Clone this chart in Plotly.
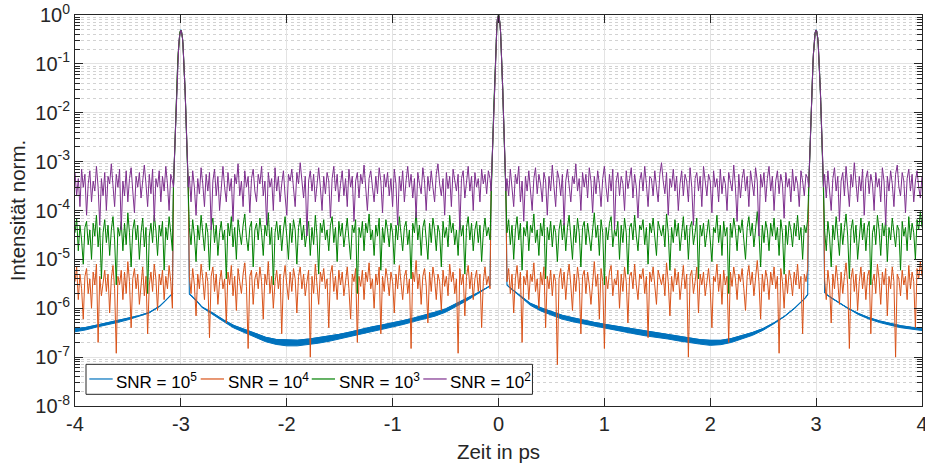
import numpy as np
import plotly.graph_objects as go

# ---------------- data ----------------
# pulse profile (offsets in ps from the pulse centre)
peak_dt = [-0.07, -0.065, -0.06, -0.055, -0.05, -0.045, -0.04, -0.035, -0.03, -0.025, -0.02, -0.015, -0.01, -0.005, 0.0,
           0.005, 0.01, 0.015, 0.02, 0.025, 0.03, 0.035, 0.04, 0.045, 0.05, 0.055, 0.06, 0.065, 0.07]
peak_center = [2.5e-4, 5.5e-4, 1.2e-3, 2.5e-3, 5.5e-3, 1.3e-2, 3.0e-2, 6.8e-2, 0.14, 0.26, 0.43, 0.63, 0.82, 0.95, 1.0,
               0.95, 0.82, 0.63, 0.43, 0.26, 0.14, 6.8e-2, 3.0e-2, 1.3e-2, 5.5e-3, 2.5e-3, 1.2e-3, 5.5e-4, 2.5e-4]
peak_side = [3e-4, 7e-4, 1.5e-3, 3.1e-3, 6.5e-3, 1.35e-2, 2.8e-2, 5.5e-2, 0.1, 0.165, 0.25, 0.34, 0.42, 0.47, 0.49,
             0.47, 0.42, 0.34, 0.25, 0.165, 0.1, 5.5e-2, 2.8e-2, 1.35e-2, 6.5e-3, 3.1e-3, 1.5e-3, 7e-4, 3e-4]
peak_pos = [-3.0, 0.0, 3.0]

# time spans of the noise floor between the pulses (ps)
noise_spans = [(-4.0, -3.08), (-2.92, -0.08), (0.08, 2.92), (3.08, 4.0)]

# SNR = 10^5 : smooth floor (upper / lower edge of the drawn band)
blue_t = [
    [-4.0, -3.9, -3.8, -3.7, -3.6, -3.5, -3.4, -3.3, -3.2, -3.15, -3.1, -3.08],
    [-2.92, -2.9, -2.85, -2.8, -2.7, -2.6, -2.5, -2.4, -2.3, -2.2, -2.1, -2.0, -1.9, -1.8, -1.7, -1.6, -1.5, -1.4,
     -1.3, -1.2, -1.1, -1.0, -0.9, -0.8, -0.7, -0.6, -0.5, -0.4, -0.3, -0.2, -0.1, -0.08],
    [0.08, 0.1, 0.2, 0.3, 0.4, 0.5, 0.6, 0.7, 0.8, 0.9, 1.0, 1.1, 1.2, 1.3, 1.4, 1.5, 1.6, 1.7, 1.8, 1.9, 2.0, 2.1,
     2.2, 2.3, 2.4, 2.5, 2.6, 2.7, 2.8, 2.9, 2.92],
    [3.08, 3.1, 3.15, 3.2, 3.3, 3.4, 3.5, 3.6, 3.7, 3.8, 3.9, 4.0],
]
blue_hi = [
    [3.8e-7, 4.05e-7, 4.5e-7, 5.0e-7, 5.5e-7, 6.2e-7, 7.0e-7, 8.2e-7, 1.1e-6, 1.4e-6, 1.8e-6, 2.0e-6],
    [1.95e-6, 1.8e-6, 1.4e-6, 1.06e-6, 8.0e-7, 5.8e-7, 4.45e-7, 3.65e-7, 3.05e-7, 2.55e-7, 2.3e-7, 2.22e-7, 2.22e-7,
     2.33e-7, 2.5e-7, 2.72e-7, 2.93e-7, 3.26e-7, 3.7e-7, 4.12e-7, 4.55e-7, 4.96e-7, 5.58e-7, 6.3e-7, 7.1e-7, 8.3e-7,
     9.7e-7, 1.23e-6, 1.57e-6, 2.05e-6, 2.7e-6, 2.9e-6],
    [3.0e-6, 2.7e-6, 1.84e-6, 1.26e-6, 1.02e-6, 8.5e-7, 7.2e-7, 6.4e-7, 5.7e-7, 5.15e-7, 4.7e-7, 4.35e-7, 4.0e-7,
     3.65e-7, 3.35e-7, 3.1e-7, 2.9e-7, 2.65e-7, 2.45e-7, 2.28e-7, 2.2e-7, 2.2e-7, 2.4e-7, 2.75e-7, 3.2e-7, 3.85e-7,
     5.0e-7, 6.8e-7, 1.02e-6, 1.65e-6, 1.9e-6],
    [2.1e-6, 1.9e-6, 1.6e-6, 1.35e-6, 1.0e-6, 7.8e-7, 6.4e-7, 5.5e-7, 4.9e-7, 4.4e-7, 4.1e-7, 3.9e-7],
]
blue_lo = [
    [3.3e-7, 3.6e-7, 4.1e-7, 4.6e-7, 5.1e-7, 5.8e-7, 6.7e-7, 8.0e-7, 1.1e-6, 1.4e-6, 1.8e-6, 2.0e-6],
    [1.95e-6, 1.8e-6, 1.4e-6, 1.04e-6, 7.6e-7, 5.4e-7, 3.95e-7, 3.15e-7, 2.55e-7, 2.07e-7, 1.82e-7, 1.70e-7, 1.70e-7,
     1.79e-7, 1.93e-7, 2.11e-7, 2.31e-7, 2.58e-7, 2.95e-7, 3.32e-7, 3.7e-7, 4.08e-7, 4.66e-7, 5.34e-7, 6.13e-7, 6.9e-7,
     8.3e-7, 1.07e-6, 1.43e-6, 1.95e-6, 2.7e-6, 2.9e-6],
    [3.0e-6, 2.7e-6, 1.76e-6, 1.15e-6, 8.8e-7, 7.2e-7, 6.0e-7, 5.3e-7, 4.75e-7, 4.3e-7, 3.9e-7, 3.5e-7, 3.25e-7,
     2.95e-7, 2.7e-7, 2.5e-7, 2.35e-7, 2.15e-7, 1.98e-7, 1.85e-7, 1.74e-7, 1.8e-7, 2.0e-7, 2.35e-7, 2.8e-7, 3.55e-7,
     4.8e-7, 6.8e-7, 1.02e-6, 1.65e-6, 1.9e-6],
    [2.1e-6, 1.9e-6, 1.6e-6, 1.35e-6, 1.0e-6, 7.4e-7, 6.0e-7, 5.1e-7, 4.5e-7, 4.0e-7, 3.7e-7, 3.5e-7],
]

# SNR = 10^4 noise floor (four spans between the pulses)
orange = [
    [3.5e-6, 7e-6, 1.5e-6, 5e-6, 2.5e-6, 6e-7, 4.5e-6, 6.5e-6, 2e-6, 4e-6,
     1e-6, 5.5e-6, 3e-6, 8e-6, 2e-7, 4.5e-6, 1.8e-6, 3.5e-6, 6e-6, 2.2e-6,
     5e-6, 8e-7, 4e-6, 7.5e-6, 2.5e-6, 1.2e-7, 4.5e-6, 3e-6, 6e-6, 1.5e-6,
     5.5e-6, 2e-6, 9e-6, 3.5e-6, 4e-7, 4e-6, 6.5e-6, 2.5e-6, 5e-6, 1.2e-6,
     3.5e-6, 7e-6, 1.8e-6, 4.5e-6, 3e-7, 3e-6, 5.5e-6, 2.2e-6, 8e-6, 4e-6,
     9e-7, 5e-6, 3e-6, 6e-6, 1.5e-6, 4.5e-6, 2.5e-6, 7.5e-6, 3.5e-6, 1e-6],
    [4.5e-6, 2e-6, 6.5e-6, 3e-6, 7e-7, 5e-6, 2.5e-6, 8e-6, 4e-6, 1.5e-6,
     5.5e-6, 3.5e-6, 2.5e-7, 4.5e-6, 7e-6, 2.2e-6, 5e-6, 1.2e-6, 3.5e-6, 6e-6,
     2.5e-6, 4e-6, 5e-7, 5.5e-6, 3e-6, 7.5e-6, 1.8e-6, 4.5e-6, 9e-7, 6.5e-6,
     3.5e-6, 2e-6, 5e-6, 8.5e-6, 2.8e-6, 1.5e-7, 4.5e-6, 6e-6, 1.2e-6, 4e-6,
     5.5e-6, 2.5e-6, 7e-6, 3.5e-6, 6e-7, 5e-6, 3e-6, 9e-6, 2e-6, 4.5e-6,
     1e-6, 3.5e-6, 6e-6, 2.5e-6, 5e-6, 3e-7, 4e-6, 7.5e-6, 3e-6, 1.5e-6,
     5.5e-6, 2.2e-6, 6.5e-6, 4e-6, 8e-7, 4.5e-6, 7e-6, 2.5e-6, 5e-6, 1.8e-6,
     3.5e-6, 6e-6, 1e-7, 4.5e-6, 2e-6, 8e-6, 3e-6, 1.2e-6, 5.5e-6, 3.5e-6,
     6.5e-6, 2.5e-6, 4e-6, 4e-7, 5e-6, 7.5e-6, 2.2e-6, 4.5e-6, 1.5e-6, 6e-6,
     3e-6, 5.5e-6, 1.8e-6, 4e-6, 7e-6, 2.5e-6, 6e-7, 5e-6, 3.5e-6, 6.5e-6,
     2e-7, 4.5e-6, 2.8e-6, 6e-6, 1.5e-6, 5.5e-6, 3.5e-6, 8.5e-6, 2.5e-6, 4e-6,
     1e-6, 5e-6, 3e-6, 7e-6, 3e-7, 4.5e-6, 2.2e-6, 6.5e-6, 4e-6, 1.8e-6,
     5.5e-6, 3.5e-6, 8e-7, 5e-6, 2.5e-6, 7.5e-6, 3e-6, 1.5e-6, 4.5e-6, 6e-6,
     2e-6, 4e-6, 1.5e-7, 5.5e-6, 3.5e-6, 9.5e-6, 2.5e-6, 5e-6, 1.2e-6, 4.5e-6,
     6.5e-6, 3e-6, 5e-7, 5.5e-6, 2.2e-6, 7e-6, 4e-6, 1.5e-6, 5e-6, 3.5e-6,
     9e-7, 6e-6, 2.8e-6, 4.5e-6, 1.8e-6, 8e-6, 3.5e-6, 5.5e-6, 2e-6, 4e-6,
     1.2e-7, 6.5e-6, 3e-6, 5e-6, 7e-7, 4.5e-6, 7.5e-6, 2.5e-6, 5.5e-6, 1.5e-6,
     4e-6, 6e-6, 2.2e-6, 5e-6, 4e-7, 3.5e-6, 7e-6, 3e-6, 4.5e-6, 2.5e-6],
    [3.5e-6, 6.5e-6, 2e-6, 5e-6, 8e-7, 4e-6, 7.5e-6, 2.5e-6, 5.5e-6, 2e-7,
     4.5e-6, 3e-6, 6e-6, 1.5e-6, 5e-6, 3.5e-6, 8.5e-6, 2.2e-6, 4e-6, 1e-6,
     5.5e-6, 3e-6, 7e-6, 4e-7, 4.5e-6, 2.5e-6, 6e-6, 1.8e-6, 5e-6, 3.5e-6,
     7e-8, 4e-6, 6.5e-6, 2.5e-6, 5.5e-6, 1.5e-6, 4.5e-6, 8e-6, 3e-6, 9e-7,
     5e-6, 2.2e-6, 7e-6, 3.5e-6, 3e-7, 4.5e-6, 6e-6, 2e-6, 5.5e-6, 3e-6,
     1.2e-6, 4e-6, 9e-6, 2.8e-6, 5e-6, 6e-7, 6.5e-6, 3.5e-6, 1.5e-7, 4.5e-6,
     2.5e-6, 5.5e-6, 7.5e-6, 1.8e-6, 4e-6, 3e-6, 6e-6, 1e-6, 5e-6, 2.2e-6,
     7e-6, 3.5e-6, 5e-7, 4.5e-6, 5.5e-6, 2.5e-6, 8e-6, 3e-6, 1.5e-6, 5e-6,
     4e-6, 6.5e-6, 2e-6, 4.5e-6, 2.5e-7, 5.5e-6, 3.5e-6, 7e-6, 2.5e-6, 1.2e-6,
     6e-6, 4e-6, 3e-6, 5e-6, 1.8e-6, 8.5e-6, 3.5e-6, 7e-7, 4.5e-6, 2.2e-6,
     6.5e-6, 3e-6, 5.5e-6, 1.5e-6, 4e-6, 7.5e-6, 2.5e-6, 5e-6, 1e-7, 4.5e-6,
     6e-6, 2e-6, 3.5e-6, 7e-6, 8e-7, 5e-6, 3e-6, 5.5e-6, 1.8e-6, 4e-6,
     6.5e-6, 2.5e-6, 4e-7, 4.5e-6, 3.5e-6, 8e-6, 2.2e-6, 5e-6, 1.2e-6, 6e-6,
     3e-6, 4.5e-6, 2e-7, 5.5e-6, 2.8e-6, 7e-6, 4e-6, 1.5e-6, 5e-6, 3.5e-6,
     6.5e-6, 2.5e-6, 9e-7, 4.5e-6, 7.5e-6, 3e-6, 5.5e-6, 1.8e-6, 4e-6, 9.5e-6,
     3.5e-6, 6e-7, 5e-6, 2.2e-6, 6e-6, 4e-6, 1.5e-6, 5.5e-6, 3e-6, 7e-6,
     2.5e-6, 4.5e-6, 1.2e-7, 6.5e-6, 3.5e-6, 1e-6, 5e-6, 2e-6, 6e-6, 4e-6,
     1.8e-6, 5.5e-6, 3e-6, 8e-6, 2.5e-6, 4.5e-6, 3e-7, 5e-6, 3.5e-6, 6.5e-6],
    [4e-6, 1.5e-6, 6e-6, 3e-6, 5e-7, 5e-6, 2.5e-6, 7.5e-6, 3.5e-6, 1.2e-6,
     5.5e-6, 2e-6, 4.5e-6, 8.5e-6, 3e-6, 1.5e-7, 4e-6, 6.5e-6, 2.2e-6, 5e-6,
     9e-7, 3.5e-6, 7e-6, 2.5e-6, 5.5e-6, 1.5e-6, 4.5e-6, 6e-6, 3e-7, 3.5e-6,
     5e-6, 2e-6, 8e-6, 4e-6, 1.2e-6, 5.5e-6, 3e-6, 6.5e-6, 7e-7, 4.5e-6,
     2.5e-6, 7e-6, 3.5e-6, 1e-7, 5e-6, 4e-6, 1.8e-6, 6e-6, 3e-6, 4.5e-6,
     1.5e-6, 7.5e-6, 2.5e-6, 5.5e-6, 3.5e-6, 4e-7, 6.5e-6, 4e-6, 9e-6, 4.5e-6],
]

# SNR = 10^3 noise floor
green = [
    [3.5e-5, 7e-5, 1.5e-5, 5e-5, 2.5e-5, 8e-6, 4.5e-5, 6e-5, 2e-5, 4e-5,
     1e-5, 5.5e-5, 3e-5, 8e-5, 1.8e-5, 4.5e-5, 4e-6, 3.5e-5, 6.5e-5, 2.2e-5,
     5e-5, 1.2e-5, 4e-5, 7.5e-5, 2.5e-5, 3e-6, 4.5e-5, 3e-5, 6e-5, 1.5e-5,
     5.5e-5, 2e-5, 9e-5, 3.5e-5, 7e-6, 4e-5, 6.5e-5, 2.5e-5, 5e-5, 1e-5,
     3.5e-5, 7e-5, 1.8e-5, 4.5e-5, 2e-6, 3e-5, 5.5e-5, 2.2e-5, 8e-5, 4e-5,
     1.2e-5, 5e-5, 3e-5, 6e-5, 6e-6, 4.5e-5, 2.5e-5, 7.5e-5, 3.5e-5, 1.5e-5],
    [4.5e-5, 2e-5, 6.5e-5, 3e-5, 9e-6, 5e-5, 2.5e-5, 8e-5, 4e-5, 1.5e-5,
     5.5e-5, 3.5e-5, 6e-6, 4.5e-5, 7e-5, 2.2e-5, 5e-5, 1.2e-5, 3.5e-5, 6e-5,
     2.5e-5, 4e-5, 4e-6, 5.5e-5, 3e-5, 7.5e-5, 1.8e-5, 4.5e-5, 1e-5, 6.5e-5,
     3.5e-5, 2e-5, 5e-5, 8.5e-5, 2.8e-5, 1.5e-5, 4.5e-5, 6e-5, 7e-6, 4e-5,
     5.5e-5, 2.5e-5, 7e-5, 3.5e-5, 1.2e-5, 5e-5, 3e-5, 9e-5, 2e-5, 4.5e-5,
     3e-6, 3.5e-5, 6e-5, 2.5e-5, 5e-5, 1.5e-5, 4e-5, 7.5e-5, 3e-5, 1e-5,
     5.5e-5, 2.2e-5, 6.5e-5, 4e-5, 8e-6, 4.5e-5, 7e-5, 2.5e-5, 5e-5, 1.8e-5,
     3.5e-5, 6e-5, 1.2e-5, 4.5e-5, 2e-5, 8e-5, 3e-5, 5e-6, 5.5e-5, 3.5e-5,
     6.5e-5, 2.5e-5, 4e-5, 1.5e-5, 5e-5, 7.5e-5, 2.2e-5, 4.5e-5, 9e-6, 6e-5,
     3e-5, 5.5e-5, 1.8e-5, 4e-5, 7e-5, 2.5e-5, 1e-5, 5e-5, 3.5e-5, 6.5e-5,
     2e-6, 4.5e-5, 2.8e-5, 6e-5, 1.5e-5, 5.5e-5, 3.5e-5, 8.5e-5, 2.5e-5, 4e-5,
     1.2e-5, 5e-5, 3e-5, 7e-5, 6e-6, 4.5e-5, 2.2e-5, 6.5e-5, 4e-5, 1.8e-5,
     5.5e-5, 3.5e-5, 8e-6, 5e-5, 2.5e-5, 7.5e-5, 3e-5, 1.5e-5, 4.5e-5, 6e-5,
     2e-5, 4e-5, 4e-6, 5.5e-5, 3.5e-5, 9.5e-5, 2.5e-5, 5e-5, 1.2e-5, 4.5e-5,
     6.5e-5, 3e-5, 1e-5, 5.5e-5, 2.2e-5, 7e-5, 4e-5, 1.5e-5, 5e-5, 3.5e-5,
     7e-6, 6e-5, 2.8e-5, 4.5e-5, 1.8e-5, 8e-5, 3.5e-5, 5.5e-5, 2e-5, 4e-5,
     1.2e-5, 6.5e-5, 3e-5, 5e-5, 5e-6, 4.5e-5, 7.5e-5, 2.5e-5, 5.5e-5, 1.5e-5,
     4e-5, 6e-5, 2.2e-5, 5e-5, 9e-6, 3.5e-5, 7e-5, 3e-5, 4.5e-5, 2.5e-5],
    [3.5e-5, 6.5e-5, 2e-5, 5e-5, 1e-5, 4e-5, 7.5e-5, 2.5e-5, 5.5e-5, 6e-6,
     4.5e-5, 3e-5, 6e-5, 1.5e-5, 5e-5, 3.5e-5, 8.5e-5, 2.2e-5, 4e-5, 1.2e-5,
     5.5e-5, 3e-5, 7e-5, 4e-6, 4.5e-5, 2.5e-5, 6e-5, 1.8e-5, 5e-5, 3.5e-5,
     9e-6, 4e-5, 6.5e-5, 2.5e-5, 5.5e-5, 1.5e-5, 4.5e-5, 8e-5, 3e-5, 1e-5,
     5e-5, 2.2e-5, 7e-5, 3.5e-5, 7e-6, 4.5e-5, 6e-5, 2e-5, 5.5e-5, 3e-5,
     1.5e-5, 4e-5, 9e-5, 2.8e-5, 5e-5, 1.2e-5, 6.5e-5, 3.5e-5, 3e-6, 4.5e-5,
     2.5e-5, 5.5e-5, 7.5e-5, 1.8e-5, 4e-5, 3e-5, 6e-5, 1e-5, 5e-5, 2.2e-5,
     7e-5, 3.5e-5, 5e-6, 4.5e-5, 5.5e-5, 2.5e-5, 8e-5, 3e-5, 1.5e-5, 5e-5,
     4e-5, 6.5e-5, 2e-5, 4.5e-5, 8e-6, 5.5e-5, 3.5e-5, 7e-5, 2.5e-5, 1.2e-5,
     6e-5, 4e-5, 3e-5, 5e-5, 1.8e-5, 8.5e-5, 3.5e-5, 6e-6, 4.5e-5, 2.2e-5,
     6.5e-5, 3e-5, 5.5e-5, 1.5e-5, 4e-5, 7.5e-5, 2.5e-5, 5e-5, 1e-5, 4.5e-5,
     6e-5, 2e-5, 3.5e-5, 7e-5, 4e-6, 5e-5, 3e-5, 5.5e-5, 1.8e-5, 4e-5,
     6.5e-5, 2.5e-5, 9e-6, 4.5e-5, 3.5e-5, 8e-5, 2.2e-5, 5e-5, 1.2e-5, 6e-5,
     3e-5, 4.5e-5, 2e-6, 5.5e-5, 2.8e-5, 7e-5, 4e-5, 1.5e-5, 5e-5, 3.5e-5,
     6.5e-5, 2.5e-5, 1e-5, 4.5e-5, 7.5e-5, 3e-5, 5.5e-5, 1.8e-5, 4e-5, 9.5e-5,
     3.5e-5, 7e-6, 5e-5, 2.2e-5, 6e-5, 4e-5, 1.5e-5, 5.5e-5, 3e-5, 7e-5,
     2.5e-5, 4.5e-5, 1.2e-5, 6.5e-5, 3.5e-5, 5e-6, 5e-5, 2e-5, 6e-5, 4e-5,
     1.8e-5, 5.5e-5, 3e-5, 8e-5, 2.5e-5, 4.5e-5, 1e-5, 5e-5, 3.5e-5, 6.5e-5],
    [4e-5, 1.5e-5, 6e-5, 3e-5, 7e-6, 5e-5, 2.5e-5, 7.5e-5, 3.5e-5, 1.2e-5,
     5.5e-5, 2e-5, 4.5e-5, 8.5e-5, 3e-5, 4e-6, 4e-5, 6.5e-5, 2.2e-5, 5e-5,
     1e-5, 3.5e-5, 7e-5, 2.5e-5, 5.5e-5, 1.5e-5, 4.5e-5, 6e-5, 3e-6, 3.5e-5,
     5e-5, 2e-5, 8e-5, 4e-5, 1.2e-5, 5.5e-5, 3e-5, 6.5e-5, 9e-6, 4.5e-5,
     2.5e-5, 7e-5, 3.5e-5, 1.8e-5, 5e-5, 4e-5, 6e-6, 6e-5, 3e-5, 4.5e-5,
     1.5e-5, 7.5e-5, 2.5e-5, 5.5e-5, 3.5e-5, 1e-5, 6.5e-5, 4e-5, 9.5e-5, 4.5e-5],
]

# SNR = 10^2 noise floor
purple = [
    [6e-4, 2e-4, 4.5e-4, 1.2e-4, 7e-4, 3e-4, 5.5e-4, 8e-5, 3.5e-4, 6.5e-4,
     1.5e-4, 4e-4, 2.5e-4, 8e-4, 3e-4, 5e-5, 4.5e-4, 2e-4, 6e-4, 1e-4,
     5e-4, 3.5e-4, 9e-4, 2.5e-4, 1.2e-4, 5.5e-4, 3e-4, 7e-4, 4e-5, 4e-4,
     2e-4, 6.5e-4, 1.5e-4, 4.5e-4, 7.5e-4, 2.5e-4, 9e-5, 5e-4, 3e-4, 6e-4,
     1.8e-4, 4e-4, 8.5e-4, 3.5e-4, 1.2e-4, 5.5e-4, 2.2e-4, 7e-4, 6e-5, 4.5e-4,
     3e-4, 6.5e-4, 1.5e-4, 5e-4, 2.5e-4, 8e-4, 3.5e-4, 1e-4, 5.5e-4, 4e-4],
    [5e-4, 1.5e-4, 6.5e-4, 3e-4, 8e-5, 4.5e-4, 2.2e-4, 7.5e-4, 3.5e-4, 1.2e-4,
     5.5e-4, 2.5e-4, 6e-4, 4e-5, 4e-4, 7e-4, 2e-4, 5e-4, 1e-4, 3.5e-4,
     8e-4, 3e-4, 1.5e-4, 6e-4, 2.5e-4, 4.5e-4, 6e-5, 5.5e-4, 3.5e-4, 9e-4,
     2e-4, 4e-4, 1.2e-4, 6.5e-4, 3e-4, 5e-4, 9e-5, 4.5e-4, 7e-4, 2.5e-4,
     1.5e-4, 5.5e-4, 3.5e-4, 8e-4, 2e-4, 4e-4, 5e-5, 6e-4, 3e-4, 4.5e-4,
     1e-4, 7.5e-4, 2.5e-4, 5e-4, 1.5e-4, 3.5e-4, 6.5e-4, 2e-4, 8e-5, 5.5e-4,
     4e-4, 7e-4, 2.8e-4, 1.2e-4, 6e-4, 3.5e-4, 9.5e-4, 4.5e-4, 1.8e-4, 5e-4,
     3e-5, 4e-4, 6.5e-4, 2.5e-4, 5.5e-4, 1.5e-4, 3.5e-4, 7.5e-4, 3e-4, 1e-4,
     5e-4, 2.2e-4, 6e-4, 4e-4, 7e-5, 4.5e-4, 8e-4, 2.5e-4, 5.5e-4, 1.5e-4,
     3.5e-4, 6.5e-4, 2e-4, 4.5e-4, 1.2e-4, 7e-4, 3e-4, 5e-4, 6e-5, 4e-4,
     6e-4, 1.8e-4, 5.5e-4, 3.5e-4, 8.5e-4, 2.5e-4, 1e-4, 4.5e-4, 6.5e-4, 3e-4,
     1.5e-4, 5e-4, 2.2e-4, 7.5e-4, 4e-4, 9e-5, 5.5e-4, 3e-4, 6e-4, 2e-4,
     4.5e-4, 1.2e-4, 7e-4, 3.5e-4, 5e-5, 5e-4, 2.5e-4, 6.5e-4, 1.5e-4, 4e-4,
     8e-4, 3e-4, 5.5e-4, 1.8e-4, 4.5e-4, 7e-5, 6e-4, 3.5e-4, 2.2e-4, 7.5e-4,
     4e-4, 1e-4, 5e-4, 2.5e-4, 6.5e-4, 3e-4, 1.5e-4, 5.5e-4, 9e-4, 3.5e-4,
     2e-4, 4.5e-4, 8e-5, 6e-4, 2.8e-4, 5e-4, 1.2e-4, 7e-4, 4e-4, 2.5e-4,
     5.5e-4, 4e-5, 4.5e-4, 6.5e-4, 1.8e-4, 3.5e-4, 8e-4, 2.5e-4, 5e-4, 1e-4,
     6e-4, 3e-4, 4.5e-4, 1.5e-4, 7e-4, 3.5e-4, 5.5e-4, 2.2e-4, 6.5e-4, 4.5e-4],
    [4.5e-4, 2e-4, 7e-4, 3e-4, 1.2e-4, 5.5e-4, 3.5e-4, 8e-4, 1.5e-4, 4e-4,
     6e-5, 5e-4, 2.5e-4, 6.5e-4, 3e-4, 1e-4, 4.5e-4, 7.5e-4, 2.2e-4, 5.5e-4,
     3.5e-4, 1.5e-4, 6e-4, 4e-4, 8e-5, 5e-4, 2.5e-4, 8.5e-4, 3e-4, 1.2e-4,
     6.5e-4, 4.5e-4, 2e-4, 5.5e-4, 5e-5, 4e-4, 7e-4, 2.8e-4, 1.5e-4, 5e-4,
     3.5e-4, 9e-4, 2.5e-4, 4.5e-4, 1e-4, 6e-4, 3e-4, 5.5e-4, 1.8e-4, 7.5e-4,
     4e-4, 9e-5, 5e-4, 2.2e-4, 6.5e-4, 3.5e-4, 1.2e-4, 4.5e-4, 8e-4, 3e-4,
     1.5e-4, 5.5e-4, 2.5e-4, 7e-4, 4e-5, 4e-4, 6e-4, 2e-4, 5e-4, 3.5e-4,
     1e-4, 6.5e-4, 2.8e-4, 4.5e-4, 7.5e-4, 1.8e-4, 5.5e-4, 3e-4, 7e-5, 4e-4,
     6e-4, 2.5e-4, 8e-4, 3.5e-4, 1.2e-4, 5e-4, 4.5e-4, 2e-4, 6.5e-4, 3e-4,
     1.5e-4, 5.5e-4, 9.5e-4, 4e-4, 2.2e-4, 6e-4, 8e-5, 4.5e-4, 3e-4, 7e-4,
     2.5e-4, 5e-4, 1e-4, 3.5e-4, 6.5e-4, 2e-4, 5.5e-4, 4e-4, 1.5e-4, 7.5e-4,
     3e-4, 5e-5, 4.5e-4, 6e-4, 2.5e-4, 5e-4, 1.2e-4, 8e-4, 3.5e-4, 2e-4,
     5.5e-4, 4e-4, 9e-5, 6.5e-4, 3e-4, 4.5e-4, 1.5e-4, 7e-4, 2.2e-4, 5e-4,
     3.5e-4, 1e-4, 6e-4, 4e-4, 2.5e-4, 8.5e-4, 3e-4, 6e-5, 5.5e-4, 1.8e-4,
     4.5e-4, 7e-4, 2.5e-4, 5e-4, 1.2e-4, 6.5e-4, 3.5e-4, 2e-4, 7.5e-4, 4e-4,
     3e-5, 5.5e-4, 3e-4, 6e-4, 1.5e-4, 4.5e-4, 8e-4, 2.5e-4, 5e-4, 1e-4,
     4e-4, 6.5e-4, 2.2e-4, 5.5e-4, 3.5e-4, 7e-5, 6e-4, 3e-4, 4.5e-4, 1.5e-4,
     7e-4, 2.5e-4, 5e-4, 3.5e-4, 1.2e-4, 6.5e-4, 4e-4, 2e-4, 5.5e-4, 4.5e-4],
    [5.5e-4, 1.8e-4, 6.5e-4, 3e-4, 1e-4, 4.5e-4, 7.5e-4, 2.5e-4, 5e-4, 6e-5,
     4e-4, 6e-4, 2e-4, 8e-4, 3.5e-4, 1.2e-4, 5.5e-4, 3e-4, 9.5e-4, 4e-4,
     1.5e-4, 5e-4, 2.5e-4, 7e-4, 8e-5, 4.5e-4, 6.5e-4, 2.2e-4, 5.5e-4, 3.5e-4,
     1e-4, 6e-4, 3e-4, 4.5e-4, 1.5e-4, 7.5e-4, 4e-4, 5e-5, 5e-4, 2.5e-4,
     6.5e-4, 3.5e-4, 1.2e-4, 5.5e-4, 8.5e-4, 3e-4, 2e-4, 6e-4, 4e-4, 9e-5,
     4.5e-4, 7e-4, 2.5e-4, 5.5e-4, 1.5e-4, 4e-4, 6.5e-4, 3e-4, 1.8e-4, 5e-4],
]

series_names = ["SNR = 10<sup>5</sup>", "SNR = 10<sup>4</sup>", "SNR = 10<sup>3</sup>", "SNR = 10<sup>2</sup>"]
series_colors = ["#0072BD", "#D95319", "#008000", "#7E2F8E"]

y_tick_exp = [-8, -7, -6, -5, -4, -3, -2, -1, 0]
x_ticks = [-4, -3, -2, -1, 0, 1, 2, 3, 4]


# ---------------- assemble the traces ----------------
def with_peaks(seg_x, seg_y):
    xs, ys = [], []
    for i in range(4):
        xs += list(seg_x[i])
        ys += list(seg_y[i])
        if i < 3:
            prof = peak_center if peak_pos[i] == 0.0 else peak_side
            xs += [peak_pos[i] + d for d in peak_dt]
            ys += prof
    return xs, ys


def noise_x(seg_vals):
    return [np.linspace(a, b, len(v)) for (a, b), v in zip(noise_spans, seg_vals)]


FONT = "Liberation Sans, Arial, Helvetica, sans-serif"
TXT = "#262626"

fig = go.Figure()

# blue band (the fast oscillation of the 10^5 curve renders as a thick band)
band_x, band_y = [], []
for t, hi, lo in zip(blue_t, blue_hi, blue_lo):
    band_x += list(t) + list(t[::-1]) + [None]
    band_y += list(hi) + list(lo[::-1]) + [None]
fig.add_trace(go.Scatter(x=band_x, y=band_y, mode="lines", fill="toself", fillcolor=series_colors[0],
                         line=dict(color=series_colors[0], width=1), showlegend=False, hoverinfo="skip"))

bx, by = with_peaks(blue_t, blue_hi)
fig.add_trace(go.Scatter(x=bx, y=by, mode="lines", name=series_names[0], showlegend=False,
                         line=dict(color=series_colors[0], width=1.1)))

for vals, name, col in zip([orange, green, purple], series_names[1:], series_colors[1:]):
    x, y = with_peaks(noise_x(vals), vals)
    fig.add_trace(go.Scatter(x=x, y=y, mode="lines", name=name, showlegend=False,
                             line=dict(color=col, width=1.0)))

# ---------------- legend box (MATLAB style, inside lower-left) ----------------
leg_box = dict(x0=0.0130, x1=0.5401, y0=0.0299, y1=0.1066)
leg_line_x = [(0.0169, 0.0445), (0.1484, 0.1759), (0.2795, 0.3070), (0.4112, 0.4388)]
leg_text_x = [0.0466, 0.1780, 0.3090, 0.4401]
leg_y = 0.0691
leg_text_y = 0.0640

shapes = [dict(type="rect", xref="paper", yref="paper", layer="above", fillcolor="white",
               line=dict(color=TXT, width=1), **leg_box)]
annotations = []
for (lx0, lx1), tx, name, col in zip(leg_line_x, leg_text_x, series_names, series_colors):
    shapes.append(dict(type="line", xref="paper", yref="paper", layer="above", x0=lx0, x1=lx1,
                       y0=leg_y, y1=leg_y, line=dict(color=col, width=1.2)))
    annotations.append(dict(text=name, xref="paper", yref="paper", x=tx, y=leg_text_y, xanchor="left",
                            yanchor="middle", showarrow=False, font=dict(size=17, color="#000000")))

minor_vals = [m * 10.0 ** k for k in range(-8, 0) for m in range(2, 10)]

fig.update_layout(
    width=925, height=466,
    margin=dict(l=75, r=3, t=15, b=60, autoexpand=False),
    paper_bgcolor="white", plot_bgcolor="white",
    font=dict(family=FONT, color=TXT, size=20),
    showlegend=False,
    shapes=shapes, annotations=annotations,
    xaxis=dict(range=[-4, 4], tickmode="array", tickvals=x_ticks, ticktext=[str(v) for v in x_ticks],
               ticks="inside", ticklen=8, tickcolor=TXT, showline=True, linecolor=TXT, linewidth=1,
               mirror="ticks", showgrid=True, gridcolor="#e3e3e3", gridwidth=1, zeroline=False,
               automargin=False, ticklabeloverflow="allow", tickfont=dict(size=20),
               title=dict(text="Zeit in ps", font=dict(size=20.5), standoff=10)),
    yaxis=dict(type="log", range=[-8, 0], tickmode="array", tickvals=[10.0 ** e for e in y_tick_exp],
               ticktext=["10<sup>%d</sup>" % e for e in y_tick_exp],
               ticks="inside", ticklen=8, tickcolor=TXT, showline=True, linecolor=TXT, linewidth=1,
               mirror="ticks", showgrid=True, gridcolor="#e3e3e3", gridwidth=1, zeroline=False,
               automargin=False, ticklabeloverflow="allow", tickfont=dict(size=20),
               title=dict(text="Intensität norm.", font=dict(size=20.5), standoff=4),
               minor=dict(tickmode="array", tickvals=minor_vals, ticks="inside", ticklen=5, tickcolor=TXT,
                          showgrid=True, gridcolor="#d2d2d2", griddash="dot", gridwidth=1)),
)

# the page's default 8 px body margin would push the 925x466 figure out of the window
fig.write_html("out.html", config={"displayModeBar": False},
               post_script="document.body.style.margin='0';")
